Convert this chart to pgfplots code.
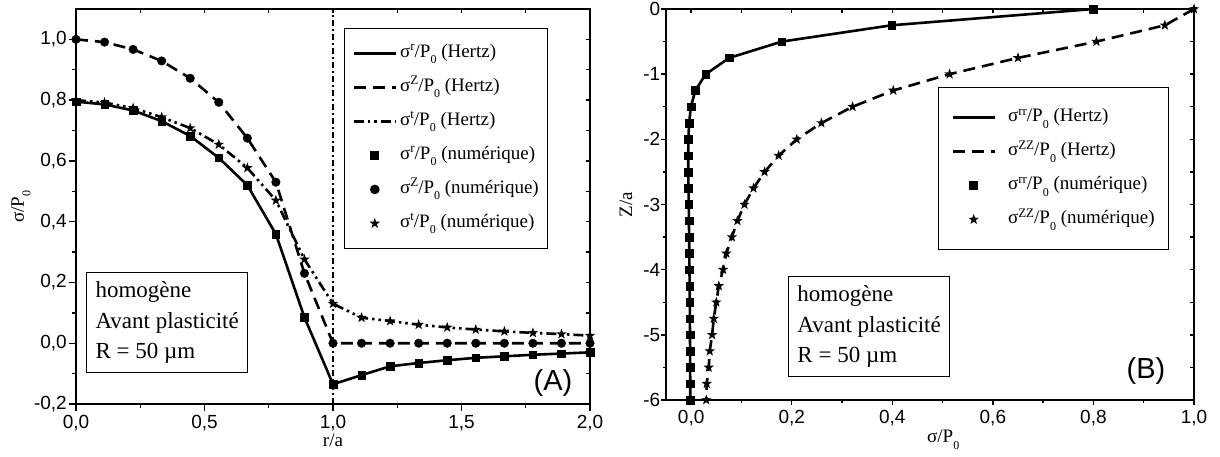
\documentclass[border=0pt]{standalone}
\usepackage{fontspec}
\setmainfont{Liberation Serif}
\setsansfont{Liberation Sans}
\usepackage{pgfplots}
\pgfplotsset{compat=1.18}
\usetikzlibrary{plotmarks}

\pgfdeclareplotmark{fstar}{%
  \pgfpathmoveto{\pgfpointpolar{90}{\pgfplotmarksize}}%
  \pgfpathlineto{\pgfpointpolar{126}{0.4\pgfplotmarksize}}%
  \pgfpathlineto{\pgfpointpolar{162}{\pgfplotmarksize}}%
  \pgfpathlineto{\pgfpointpolar{198}{0.4\pgfplotmarksize}}%
  \pgfpathlineto{\pgfpointpolar{234}{\pgfplotmarksize}}%
  \pgfpathlineto{\pgfpointpolar{270}{0.4\pgfplotmarksize}}%
  \pgfpathlineto{\pgfpointpolar{306}{\pgfplotmarksize}}%
  \pgfpathlineto{\pgfpointpolar{342}{0.4\pgfplotmarksize}}%
  \pgfpathlineto{\pgfpointpolar{18}{\pgfplotmarksize}}%
  \pgfpathlineto{\pgfpointpolar{54}{0.4\pgfplotmarksize}}%
  \pgfpathclose\pgfusepathqfill}

\newcommand{\tickfont}{\fontsize{19}{22}\sffamily}
\newcommand{\lgfont}{\fontsize{19}{22}\selectfont}
\newcommand{\zsub}{\raisebox{-6.5pt}{\fontsize{12}{12}\selectfont 0}}
\newcommand{\ssup}[1]{\raisebox{6.5pt}{\fontsize{13}{13}\selectfont #1}}
\newcommand{\sg}[2]{σ\ssup{#1}/P\zsub\ (#2)}

\tikzset{
  boxtxt/.style={draw, line width=1pt, anchor=north west, align=left, inner xsep=9pt, inner ysep=9pt,
      font=\fontsize{23}{30.5}\selectfont},
}
\pgfplotsset{
  base/.style={
    scale only axis, anchor=south west,
    axis line style={line width=1.6pt},
    every tick/.style={line width=1.4pt, black},
    /pgf/number format/assume math mode=true,
    /pgf/number format/use comma,
    ticklabel style={font=\tickfont},
    legend image code/.code={\draw[mark repeat=2,mark phase=2,##1] plot coordinates {(0pt,0pt) (21pt,0pt) (42pt,0pt)};},
  },
  lgd/.style={legend cell align=left, legend style={draw=black, line width=1pt, font=\lgfont,
      nodes={inner sep=1pt, text height=14pt, text depth=6pt}, row sep=12pt}},
  solidL/.style={line width=2.6pt},
  dashL/.style={line width=2.6pt, dash pattern=on 12pt off 7pt},
  ddotL/.style={line width=2.6pt, dash pattern=on 10pt off 4pt on 2.5pt off 4pt on 2.5pt off 4pt},
}

\pgfplotstableread{
r    sr     sz     st
0      0.795  1.000  0.800
0.1111 0.786  0.991  0.792
0.2222 0.766  0.967  0.774
0.3333 0.731  0.929  0.744
0.4444 0.682  0.872  0.708
0.5556 0.610  0.793  0.654
0.6667 0.520  0.675  0.577
0.7778 0.359  0.530  0.470
0.8889 0.085  0.230  0.276
1.0000 -0.135 0.000  0.130
1.1111 -0.105 0.000  0.084
1.2222 -0.076 0.000  0.073
1.3333 -0.065 0.000  0.061
1.4444 -0.056 0.000  0.052
1.5556 -0.048 0.000  0.045
1.6667 -0.043 0.000  0.039
1.7778 -0.038 0.000  0.034
1.8889 -0.034 0.000  0.030
2.0000 -0.030 0.000  0.025
}\tabA

\pgfplotstableread{
z     srr     szz
0     0.8     1.000
-0.25 0.3985  0.942
-0.5  0.1804  0.806
-0.75 0.0759  0.650
-1    0.0290  0.514
-1.25 0.0084  0.402
-1.5  -0.0005 0.321
-1.75 -0.0041 0.259
-2    -0.0055 0.210
-2.25 -0.0058 0.174
-2.5  -0.0056 0.146
-2.75 -0.0053 0.124
-3    -0.0048 0.106
-3.25 -0.0044 0.092
-3.5  -0.0040 0.081
-3.75 -0.0036 0.070
-4    -0.0033 0.0635
-4.25 -0.0030 0.055
-4.5  -0.0027 0.050
-4.75 -0.0025 0.045
-5    -0.0023 0.0417
-5.25 -0.0021 0.037
-5.5  -0.0020 0.035
-5.75 -0.0018 0.031
-6    -0.0017 0.030
}\tabB

\begin{document}
\begin{tikzpicture}
\path[use as bounding box] (0,0) rectangle (1220pt,457pt);

% ---------- Panel A ----------
\begin{axis}[base, lgd, at={(76pt,53pt)}, width=514pt, height=395pt,
  xmin=0, xmax=2, ymin=-0.2, ymax=1.1,
  xtick={0,0.5,1,1.5,2}, minor x tick num=1,
  ytick={-0.2,0,0.2,0.4,0.6,0.8,1.0}, minor y tick num=1,
  tick align=outside, xtick pos=left, ytick pos=left,
  major tick length=7pt, minor tick length=4pt,
  xticklabel style={/pgf/number format/.cd, fixed, fixed zerofill, precision=1, /tikz/inner ysep=4pt},
  yticklabel style={/pgf/number format/.cd, fixed, fixed zerofill, precision=1, /tikz/inner xsep=2pt},
  xlabel={r/a}, ylabel={σ/P\zsub},
  every axis x label/.style={at={(axis description cs:0.5,-0.091)}, anchor=center, font=\lgfont},
  every axis y label/.style={at={(axis description cs:-0.107,0.5)}, rotate=90, anchor=center, font=\lgfont},
  legend style={at={(rel axis cs:0.5214,0.952)}, anchor=north west, inner xsep=8pt, inner ysep=14pt, column sep=2pt},
]
\addplot[solidL] table[x=r,y=sr] {\tabA};
\addlegendentry{\sg{r}{Hertz}}
\addplot[dashL] table[x=r,y=sz] {\tabA};
\addlegendentry{\sg{Z}{Hertz}}
\addplot[ddotL] table[x=r,y=st] {\tabA};
\addlegendentry{\sg{t}{Hertz}}
\addplot[only marks, mark=square*, mark size=3.8pt] table[x=r,y=sr] {\tabA};
\addlegendentry{\sg{r}{numérique}}
\addplot[only marks, mark=*, mark size=4.3pt] table[x=r,y=sz] {\tabA};
\addlegendentry{\sg{Z}{numérique}}
\addplot[only marks, mark=fstar, mark size=5.5pt] table[x=r,y=st] {\tabA};
\addlegendentry{\sg{t}{numérique}}
\addplot[line width=1.3pt, dash pattern=on 6pt off 3pt on 2pt off 3pt, forget plot] coordinates {(1,-0.2) (1,1.1)};
\node[boxtxt] at (rel axis cs:0.0195,0.334) {homogène\\Avant plasticité\\R = 50 µm};
\node[font=\fontsize{29}{34}\sffamily] at (rel axis cs:0.928,0.053) {(A)};
\end{axis}
\begin{axis}[base, at={(76pt,53pt)}, width=514pt, height=395pt,
  xmin=0, xmax=2, ymin=-0.2, ymax=1.1,
  xtick={0,0.25,...,2}, ytick={-0.2,-0.1,...,1.1},
  tick align=inside, xtick pos=right, ytick pos=right,
  major tick length=4pt, xticklabels={}, yticklabels={}]
\end{axis}

% ---------- Panel B ----------
\begin{axis}[base, lgd, at={(666pt,57pt)}, width=528pt, height=391pt,
  xmin=-0.05, xmax=1.0, ymin=-6, ymax=0,
  xtick={0,0.2,0.4,0.6,0.8,1.0}, minor x tick num=1,
  ytick={-6,-5,-4,-3,-2,-1,0}, minor y tick num=1,
  tick align=outside, xtick pos=left, ytick pos=left,
  major tick length=5pt, minor tick length=3pt,
  xticklabel style={/pgf/number format/.cd, fixed, fixed zerofill, precision=1, /tikz/inner ysep=5pt},
  yticklabel style={/tikz/inner xsep=0.5pt},
  xlabel={σ/P\zsub}, ylabel={Z/a},
  every axis x label/.style={at={(axis description cs:0.525,-0.102)}, anchor=center, font=\lgfont},
  every axis y label/.style={at={(axis description cs:-0.0758,0.5)}, rotate=90, anchor=center, font=\lgfont},
  legend style={at={(rel axis cs:0.515,0.8005)}, anchor=north west, inner xsep=13pt, inner ysep=19pt, column sep=11pt},
]
\addplot[solidL] table[x=srr,y=z] {\tabB};
\addlegendentry{\sg{rr}{Hertz}}
\addplot[dashL] table[x=szz,y=z] {\tabB};
\addlegendentry{\sg{ZZ}{Hertz}}
\addplot[only marks, mark=square*, mark size=3.8pt] table[x=srr,y=z] {\tabB};
\addlegendentry{\sg{rr}{numérique}}
\addplot[only marks, mark=fstar, mark size=5.5pt] table[x=szz,y=z] {\tabB};
\addlegendentry{\sg{ZZ}{numérique}}
\node[boxtxt] at (rel axis cs:0.231,0.317) {homogène\\Avant plasticité\\R = 50 µm};
\node[font=\fontsize{29}{34}\sffamily] at (rel axis cs:0.909,0.074) {(B)};
\end{axis}
\begin{axis}[base, at={(666pt,57pt)}, width=528pt, height=391pt,
  xmin=-0.05, xmax=1.0, ymin=-6, ymax=0,
  xtick={0,0.1,...,1.0}, ytick={-6,-5.5,...,0},
  tick align=inside, xtick pos=right, ytick pos=right,
  major tick length=4pt, xticklabels={}, yticklabels={}]
\end{axis}
\end{tikzpicture}
\end{document}
